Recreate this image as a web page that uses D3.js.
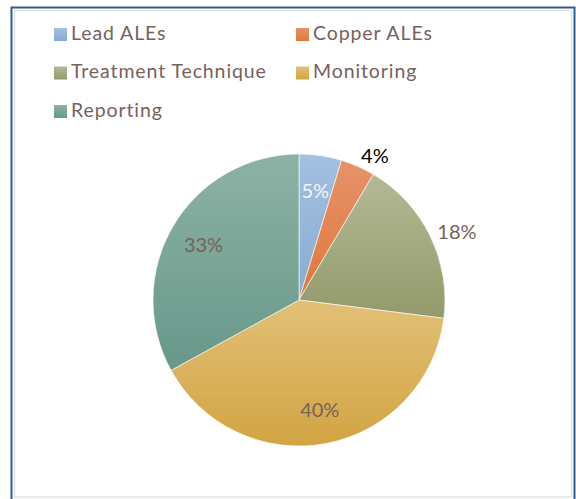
<!DOCTYPE html>
<html>
<head>
<meta charset="utf-8">
<script src="https://cdn.jsdelivr.net/npm/d3@7"></script>
<style>
  html, body { margin: 0; padding: 0; background: #fff; }
  svg { display: block; }
</style>
</head>
<body>
<svg id="chart" width="576" height="499"></svg>
<script>
// chart data
const categories = ['Lead ALEs', 'Copper ALEs', 'Treatment Technique', 'Monitoring', 'Reporting'];
const shares = [4.7, 3.8, 18.5, 40.0, 33.0];
const pctLabels = ['5%', '4%', '18%', '40%', '33%'];

// styling (top / bottom of each slice gradient)
const topColors = ['#a3c1e0', '#e6926a', '#b4b996', '#e2c077', '#8db2a5'];
const bottomColors = ['#88abd2', '#e0773a', '#939a6a', '#d2a443', '#67988a'];
const labelColors = ['#f4f4f4', '#000000', '#76625c', '#76625c', '#76625c'];
const outside = [false, true, true, false, false];

const svg = d3.select('#chart');
const textCol = '#76625c';
const font = 'Lato, "Open Sans", sans-serif';

// frame
svg.append('rect').attr('x', 11.5).attr('y', 7.5).attr('width', 563).attr('height', 495)
  .attr('fill', 'none').attr('stroke', '#2f5c8a').attr('stroke-width', 2);
svg.append('rect').attr('x', 14.5).attr('y', 10.5).attr('width', 557).attr('height', 486.5)
  .attr('fill', '#fff').attr('stroke', '#e6e2e0').attr('stroke-width', 1.5);

// gradients
const defs = svg.append('defs');
categories.forEach((c, i) => {
  const g = defs.append('linearGradient').attr('id', 'g' + i)
    .attr('x1', 0).attr('y1', 0).attr('x2', 0).attr('y2', 1);
  g.append('stop').attr('offset', '0%').attr('stop-color', topColors[i]);
  g.append('stop').attr('offset', '100%').attr('stop-color', bottomColors[i]);
});

// legend
const legendX = [54, 296];
const legend = svg.append('g');
categories.forEach((c, i) => {
  const col = i % 2, row = Math.floor(i / 2);
  const g = legend.append('g').attr('transform', `translate(${legendX[col]},${28 + row * 38.5})`);
  g.append('rect').attr('width', 13).attr('height', 13).attr('fill', `url(#g${i})`);
  g.append('text').attr('x', 17).attr('y', 11.5)
    .attr('font-family', font).attr('font-size', 19.5).attr('letter-spacing', 0.9)
    .attr('fill', textCol).text(c);
});

// pie
const cx = 299, cy = 300, R = 146;
const pie = d3.pie().sort(null).value(d => d);
const arcs = pie(shares);
const arc = d3.arc().innerRadius(0).outerRadius(R);
const g = svg.append('g').attr('transform', `translate(${cx},${cy})`);

g.selectAll('path').data(arcs).join('path')
  .attr('d', arc)
  .attr('fill', (d, i) => `url(#g${i})`)
  .attr('stroke', '#fff').attr('stroke-width', 0.6);

// data labels
const inArc = d3.arc().innerRadius(R * 0.76).outerRadius(R * 0.76);
g.selectAll('text.lbl').data(arcs).join('text')
  .attr('class', 'lbl')
  .attr('font-family', font).attr('font-size', 20)
  .attr('fill', (d, i) => labelColors[i])
  .attr('dominant-baseline', 'central')
  .each(function(d, i) {
    const t = d3.select(this);
    const a = (d.startAngle + d.endAngle) / 2;
    if (outside[i]) {
      const r = R + 8;
      const x = Math.sin(a) * r, y = -Math.cos(a) * r;
      t.attr('text-anchor', Math.sin(a) >= 0 ? 'start' : 'end')
        .attr('x', x).attr('y', y - 7 * Math.cos(a) + 2);
    } else {
      const [x, y] = inArc.centroid(d);
      t.attr('text-anchor', 'middle').attr('x', x).attr('y', y);
    }
  })
  .text((d, i) => pctLabels[i]);
</script>
</body>
</html>
